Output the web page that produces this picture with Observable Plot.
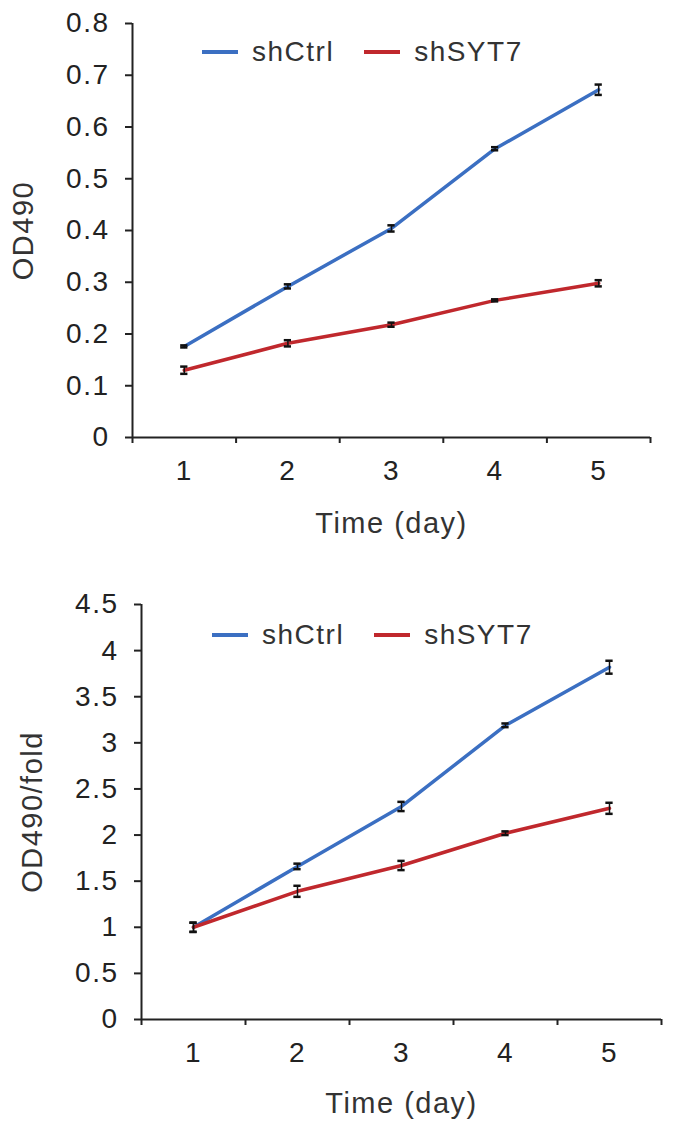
<!DOCTYPE html>
<html>
<head>
<meta charset="utf-8">
<script src="https://cdn.jsdelivr.net/npm/d3@7"></script>
<script src="https://cdn.jsdelivr.net/npm/@observablehq/plot@0.6"></script>
<style>
  body { margin: 0; background: #fff; font-family: "Liberation Sans", Arial, sans-serif; }
  .panel { position: relative; width: 679px; }
  .panel svg { display: block; }
  .panel svg text { letter-spacing: 1.5px; }
  .legend { position: absolute; display: flex; align-items: center; gap: 30px;
            font-size: 28px; letter-spacing: 1.5px; color: #333; line-height: 1; }
  .legend span.item { display: flex; align-items: center; }
  .legend i { display: inline-block; width: 36px; height: 3.5px; margin-right: 14px; }
</style>
</head>
<body>
<div id="chart-od" class="panel"></div>
<div id="chart-fold" class="panel"></div>
<script>
// values
const days = [1, 2, 3, 4, 5];
const seriesNames = ["shCtrl", "shSYT7"];
const seriesColors = ["#3b6fc2", "#c0282d"];

const odCtrl     = [0.176, 0.292, 0.404, 0.558, 0.672];
const odCtrlErr  = [0.002, 0.004, 0.006, 0.003, 0.010];
const odSyt7     = [0.130, 0.182, 0.218, 0.265, 0.298];
const odSyt7Err  = [0.007, 0.006, 0.004, 0.002, 0.006];

const foldCtrl    = [1.00, 1.66, 2.31, 3.19, 3.82];
const foldCtrlErr = [0.05, 0.03, 0.05, 0.02, 0.07];
const foldSyt7    = [1.00, 1.39, 1.67, 2.02, 2.29];
const foldSyt7Err = [0.05, 0.06, 0.05, 0.02, 0.06];

const odTicks   = [0, 0.1, 0.2, 0.3, 0.4, 0.5, 0.6, 0.7, 0.8];
const foldTicks = [0, 0.5, 1, 1.5, 2, 2.5, 3, 3.5, 4, 4.5];

function toRows(values, errs, series) {
  return days.map((day, i) => ({ day, series, value: values[i], err: errs[i] }));
}

function renderPanel(containerId, cfg) {
  const el = document.getElementById(containerId);
  const rows = [
    ...toRows(cfg.ctrl, cfg.ctrlErr, seriesNames[0]),
    ...toRows(cfg.syt7, cfg.syt7Err, seriesNames[1]),
  ];
  const bounds = d3.range(0.5, 6, 1);
  const cap = 0.035;

  const chart = Plot.plot({
    width: 679,
    height: cfg.height,
    marginTop: cfg.marginTop,
    marginBottom: cfg.marginBottom,
    marginLeft: cfg.marginLeft,
    marginRight: cfg.marginRight,
    x: { domain: [0.5, 5.5] },
    y: { domain: [0, cfg.yTicks[cfg.yTicks.length - 1]] },
    color: { domain: seriesNames, range: seriesColors },
    style: { fontFamily: "'Liberation Sans', Arial, sans-serif", fontSize: "28px", color: "#222", background: "#fff", overflow: "visible" },
    marks: [
      Plot.axisY({ ticks: cfg.yTicks, tickSize: 7, tickPadding: 16, tickFormat: d3.format("~g"), label: null, strokeWidth: 2 }),
      Plot.axisX({ ticks: days, tickSize: 0, tickPadding: 23, tickFormat: d3.format("d"), label: null }),
      Plot.axisX({ ticks: bounds, tickSize: 6, tickFormat: () => "", label: null, strokeWidth: 2 }),
      Plot.ruleY([0], { stroke: "#222", strokeWidth: 2 }),
      Plot.ruleX([0.5], { stroke: "#222", strokeWidth: 2 }),
      Plot.line(rows, { x: "day", y: "value", z: "series", stroke: "series", strokeWidth: 3.5 }),
      Plot.ruleX(rows, { x: "day", y1: d => d.value - d.err, y2: d => d.value + d.err, stroke: "#111", strokeWidth: 1.5 }),
      Plot.ruleY(rows, { y: d => d.value + d.err, x1: d => d.day - cap, x2: d => d.day + cap, stroke: "#111", strokeWidth: 2.5 }),
      Plot.ruleY(rows, { y: d => d.value - d.err, x1: d => d.day - cap, x2: d => d.day + cap, stroke: "#111", strokeWidth: 2.5 }),
      Plot.text([cfg.yLabel], { frameAnchor: "left", rotate: -90, textAnchor: "middle", lineAnchor: "middle", dx: cfg.yLabelDx, fill: "#333", fontSize: 29 }),
      Plot.text(["Time (day)"], { frameAnchor: "bottom", textAnchor: "middle", lineAnchor: "middle", dy: cfg.xLabelDy, fill: "#333", fontSize: 29 }),
    ],
  });
  el.appendChild(chart);

  const legend = document.createElement("div");
  legend.className = "legend";
  legend.style.left = cfg.legendLeft + "px";
  legend.style.top = cfg.legendTop + "px";
  seriesNames.forEach((name, i) => {
    const item = document.createElement("span");
    item.className = "item";
    item.innerHTML = `<i style="background:${seriesColors[i]}"></i>${name}`;
    legend.appendChild(item);
  });
  el.appendChild(legend);
}

renderPanel("chart-od", {
  ctrl: odCtrl, ctrlErr: odCtrlErr, syt7: odSyt7, syt7Err: odSyt7Err,
  yTicks: odTicks, yLabel: "OD490",
  height: 560, marginTop: 23, marginBottom: 123, marginLeft: 132, marginRight: 29,
  yLabelDx: -109, xLabelDy: 86,
  legendLeft: 202, legendTop: 38,
});

renderPanel("chart-fold", {
  ctrl: foldCtrl, ctrlErr: foldCtrlErr, syt7: foldSyt7, syt7Err: foldSyt7Err,
  yTicks: foldTicks, yLabel: "OD490/fold",
  height: 575, marginTop: 44, marginBottom: 116, marginLeft: 141, marginRight: 18,
  yLabelDx: -109, xLabelDy: 84,
  legendLeft: 212, legendTop: 61,
});
</script>
</body>
</html>
